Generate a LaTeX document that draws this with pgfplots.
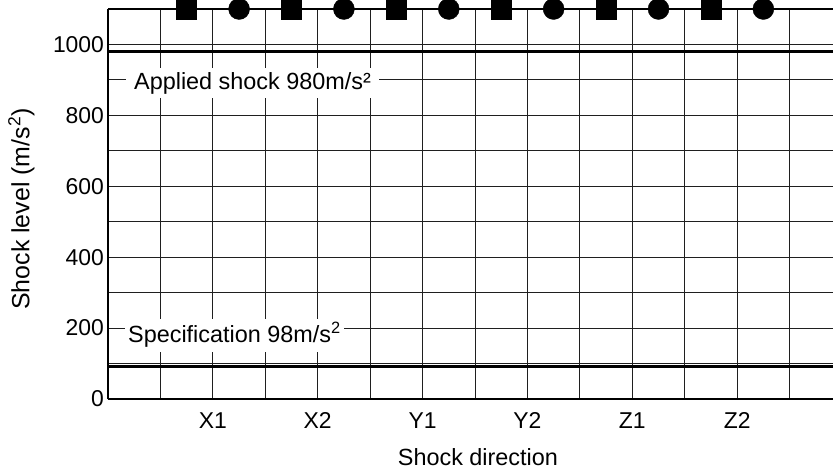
\documentclass[border=0pt]{standalone}
\usepackage{pgfplots}
\pgfplotsset{compat=1.18}
\usepackage{fontspec}
\setmainfont{Liberation Sans}
\begin{document}
\begin{tikzpicture}
\begin{axis}[
  at={(0,0)}, anchor=south west,
  scale only axis,
  width=734bp, height=390bp,
  xmin=0, xmax=14, ymin=0, ymax=1100,
  clip=false,
  axis x line*=bottom, axis y line*=left,
  axis line style={-, line width=2.4bp, black},
  xtick={2,4,6,8,10,12},
  xticklabels={X1,X2,Y1,Y2,Z1,Z2},
  minor xtick={1,3,5,7,9,11,13},
  ytick={0,200,400,600,800,1000},
  minor ytick={100,300,500,700,900},
  xmajorgrids, xminorgrids, ymajorgrids, yminorgrids,
  major grid style={black!88, line width=0.9bp},
  minor grid style={black!88, line width=0.9bp},
  major tick length=0pt, minor tick length=0pt,
  tick style={draw=none},
  /pgf/number format/assume math mode=true,
  /pgf/number format/1000 sep={},
  ticklabel style={font=\fontsize{23}{27}\selectfont},
  xticklabel style={anchor=base, yshift=-29bp},
  yticklabel style={anchor=east, xshift=-0.5bp},
  xlabel={Shock direction},
  ylabel={Shock level (m/s\textsuperscript{2})},
  label style={font=\fontsize{23.5}{27}\selectfont},
  ylabel style={font=\fontsize{25}{29}\selectfont},
  xlabel style={at={(axis description cs:0.504,-0.149)}, anchor=center},
  ylabel style={at={(axis description cs:-0.118,0.487)}, anchor=center},
]
% specification and applied lines
\addplot[black, line width=3bp] coordinates {(0,980) (14,980)};
\addplot[black, line width=3bp] coordinates {(0,93) (14,93)};
% measured level line
\addplot[black, line width=2.5bp] coordinates {(0,1100) (14,1100)};
\addplot[only marks, mark=square*, mark size=10bp, black] coordinates {
  (1.5,1100) (3.5,1100) (5.5,1100) (7.5,1100) (9.5,1100) (11.5,1100)};
\addplot[only marks, mark=*, mark size=10.5bp, black] coordinates {
  (2.5,1100) (4.5,1100) (6.5,1100) (8.5,1100) (10.5,1100) (12.5,1100)};
\node[anchor=base west, fill=white, inner xsep=8bp, inner ysep=4bp,
  font=\fontsize{23.5}{27}\selectfont] at (axis cs:0.343,874) {Applied shock 980m/s²};
\node[anchor=base west, fill=white, inner xsep=3bp, inner ysep=4bp,
  font=\fontsize{23.5}{27}\selectfont] at (axis cs:0.324,158) {Specification 98m/s\textsuperscript{2}};
\end{axis}
\pgfresetboundingbox
\path[use as bounding box] (-108bp,-75bp) rectangle (725bp,399bp);
\end{tikzpicture}
\end{document}
